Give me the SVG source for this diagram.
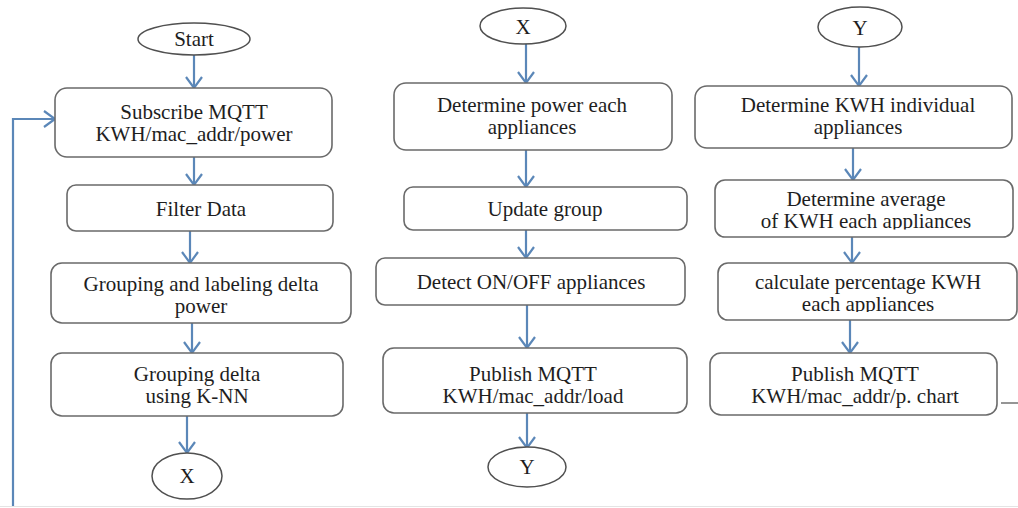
<svg xmlns="http://www.w3.org/2000/svg" width="1018" height="508" viewBox="0 0 1018 508">
<style>
.box{fill:#fff;stroke:#6a6a6a;stroke-width:1.6}
.term{fill:#fff;stroke:#505050;stroke-width:1.5}
.t{font-family:"Liberation Serif","Times New Roman",serif;font-size:21px;fill:#1e1e1e;text-anchor:middle}
.c{fill:none;stroke:#5b87b8;stroke-width:2.2}
</style>
<defs>
<marker id="ah" markerUnits="userSpaceOnUse" markerWidth="16" markerHeight="20" refX="12" refY="9" orient="auto" viewBox="0 0 16 20">
<path d="M1,1 L12,9 L1,17" fill="none" stroke="#5b87b8" stroke-width="2.2"/>
</marker>
<clipPath id="clipAvg"><rect x="700" y="170" width="318" height="59.5"/></clipPath>
<clipPath id="clipCalc"><rect x="700" y="255" width="318" height="57"/></clipPath>
</defs>
<rect x="0" y="0" width="1018" height="508" fill="#fff"/>
<line x1="0" y1="506.5" x2="1018" y2="506.5" stroke="#e4e4e4" stroke-width="1"/>

<g id="connectors">
<line class="c" x1="194" y1="55" x2="194" y2="88" marker-end="url(#ah)"/>
<line class="c" x1="194" y1="157" x2="194" y2="185" marker-end="url(#ah)"/>
<line class="c" x1="190" y1="231" x2="190" y2="263" marker-end="url(#ah)"/>
<line class="c" x1="192" y1="323" x2="192" y2="353" marker-end="url(#ah)"/>
<line class="c" x1="187" y1="416" x2="187" y2="453" marker-end="url(#ah)"/>
<polyline class="c" points="13,506 13,119 55,119" marker-end="url(#ah)"/>
<line class="c" x1="526" y1="44" x2="526" y2="83" marker-end="url(#ah)"/>
<line class="c" x1="526" y1="150" x2="526" y2="187" marker-end="url(#ah)"/>
<line class="c" x1="526" y1="230" x2="526" y2="258" marker-end="url(#ah)"/>
<line class="c" x1="527" y1="305" x2="527" y2="348" marker-end="url(#ah)"/>
<line class="c" x1="527" y1="413" x2="527" y2="448" marker-end="url(#ah)"/>
<line class="c" x1="859" y1="47" x2="859" y2="86" marker-end="url(#ah)"/>
<line class="c" x1="853" y1="148" x2="853" y2="180" marker-end="url(#ah)"/>
<line class="c" x1="852" y1="237" x2="852" y2="263" marker-end="url(#ah)"/>
<line class="c" x1="850" y1="320" x2="850" y2="353" marker-end="url(#ah)"/>
<line x1="1001" y1="403" x2="1018" y2="403" stroke="#8a8a8a" stroke-width="1.8"/>
</g>

<g id="start"><ellipse class="term" cx="194" cy="39" rx="56" ry="16"/><text class="t" x="194" y="46">Start</text></g>
<g id="subscribe"><rect class="box" x="55" y="88" width="277" height="69" rx="12"/><text class="t" x="194" y="119">Subscribe MQTT</text><text class="t" x="194" y="141">KWH/mac_addr/power</text></g>
<g id="filter"><rect class="box" x="67" y="185" width="266" height="46" rx="9"/><text class="t" x="201" y="216">Filter Data</text></g>
<g id="grouplabel"><rect class="box" x="51" y="263" width="300" height="60" rx="11"/><text class="t" x="201" y="291">Grouping and labeling delta</text><text class="t" x="201" y="313">power</text></g>
<g id="knn"><rect class="box" x="51" y="353" width="292" height="63" rx="11"/><text class="t" x="197" y="381">Grouping delta</text><text class="t" x="197" y="403">using K-NN</text></g>
<g id="x1"><ellipse class="term" cx="187" cy="476" rx="35" ry="23"/><text class="t" x="187" y="483">X</text></g>

<g id="x2"><ellipse class="term" cx="523" cy="26" rx="43" ry="18"/><text class="t" x="523" y="34">X</text></g>
<g id="detpower"><rect class="box" x="394" y="83" width="278" height="67" rx="12"/><text class="t" x="532" y="112">Determine power each</text><text class="t" x="532" y="134">appliances</text></g>
<g id="update"><rect class="box" x="404" y="187" width="283" height="43" rx="9"/><text class="t" x="545" y="216">Update group</text></g>
<g id="onoff"><rect class="box" x="376" y="258" width="309" height="47" rx="9"/><text class="t" x="531" y="289">Detect ON/OFF appliances</text></g>
<g id="pubload"><rect class="box" x="383" y="348" width="304" height="65" rx="11"/><text class="t" x="533" y="381">Publish MQTT</text><text class="t" x="533" y="403">KWH/mac_addr/load</text></g>
<g id="y1"><ellipse class="term" cx="527" cy="467" rx="39" ry="20"/><text class="t" x="527" y="474">Y</text></g>

<g id="y2"><ellipse class="term" cx="860" cy="27" rx="42" ry="20"/><text class="t" x="860" y="35">Y</text></g>
<g id="detkwh"><rect class="box" x="695" y="86" width="317" height="62" rx="12"/><text class="t" x="858" y="112">Determine KWH individual</text><text class="t" x="858" y="134">appliances</text></g>
<g id="average"><rect class="box" x="715" y="180" width="298" height="57" rx="10"/><g clip-path="url(#clipAvg)"><text class="t" x="866" y="206">Determine average</text><text class="t" x="866" y="228">of KWH each appliances</text></g></g>
<g id="percent"><rect class="box" x="718" y="263" width="299" height="57" rx="10"/><g clip-path="url(#clipCalc)"><text class="t" x="868" y="289">calculate percentage KWH</text><text class="t" x="868" y="311">each appliances</text></g></g>
<g id="pubchart"><rect class="box" x="710" y="353" width="287" height="62" rx="11"/><text class="t" x="855" y="381">Publish MQTT</text><text class="t" x="855" y="403">KWH/mac_addr/p. chart</text></g>
</svg>
